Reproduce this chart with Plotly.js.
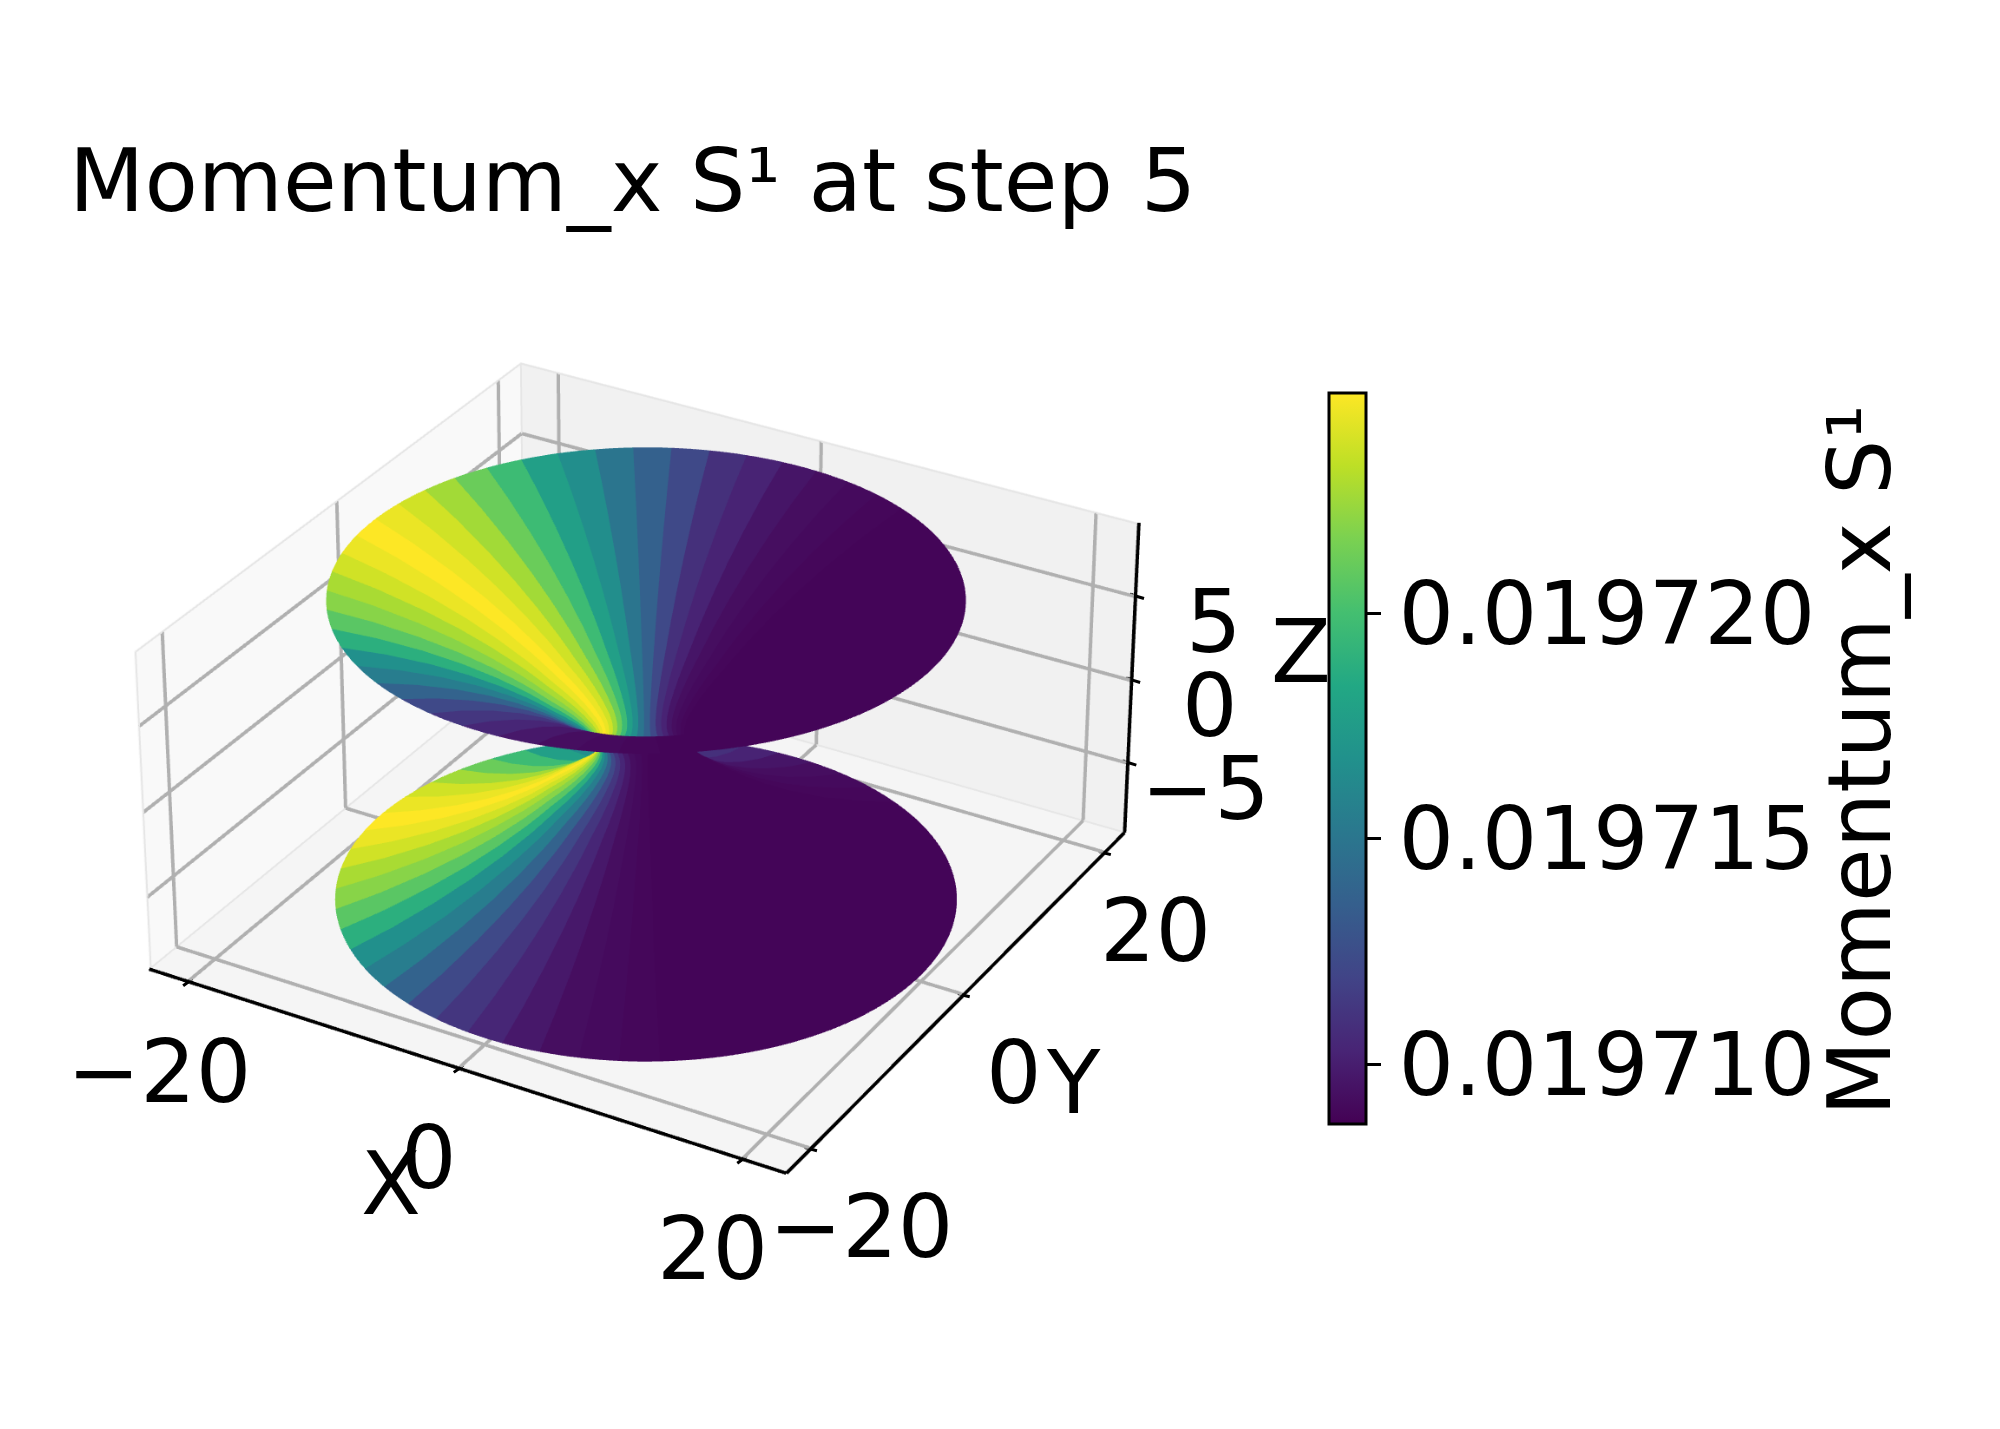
<!DOCTYPE html>
<html><head><meta charset="utf-8">
<script src="https://cdn.plot.ly/plotly-3.0.1.min.js"></script>
<style>html,body{margin:0;padding:0;background:#fff;overflow:hidden;width:2000px;height:1429px}#chart{position:absolute}</style>
</head><body><div id="chart"></div>
<script>
// upper-half profile of the surface (lower half mirrors it)
var profileZ = [0,0.25,0.5,0.75,1,1.5,2,2.5,3,3.5,4,5,6,7,8,8.85];
var profileR = [2.95,2.98,3.08,3.24,3.46,4.0,4.65,5.4,6.23,7.01,7.84,9.70,11.82,14.27,17.12,20.0];
// momentum read per angular band, starting at theta = 0, 50 bands round the circle
var bandFraction = [0.015,0.015,0.015,0.015,0.015,0.015,0.015,0.015,0.015,0.02,0.03,0.04,0.06,0.10,0.14,0.22,0.31,0.39,0.49,0.56,0.68,0.77,0.86,0.93,0.97,1.0,0.97,0.93,0.87,0.82,0.74,0.63,0.5,0.42,0.32,0.22,0.16,0.11,0.07,0.04,0.03,0.02,0.015,0.015,0.015,0.015,0.015,0.015,0.015,0.015];
var vMin = 0.01970867, vMax = 0.01972490;
var cbTicks = [0.01971,0.019715,0.01972];
var axisTicks = [-20,0,20], zTicks = [-5,0,5];
var xLim = 23, zLim = 9.3;
var viridis = [[0,'#440154'],[0.1,'#482475'],[0.2,'#414487'],[0.3,'#355f8d'],[0.4,'#2a788e'],[0.5,'#21918c'],[0.6,'#22a884'],[0.7,'#44bf70'],[0.8,'#7ad151'],[0.9,'#bddf26'],[1,'#fde725']];

// the plot area is larger than the window so that the scene's field of view gives a mild perspective
var W = 5000, H = 5000, centerX = 646, centerY = 745, eyeDist = 8.33;
var offX = W/2 - centerX, offY = H/2 - centerY;
var el = document.getElementById('chart');
el.style.left = (-offX)+'px'; el.style.top = (-offY)+'px'; el.style.width = W+'px'; el.style.height = H+'px';
function px(x){return (x+offX)/W;}
function py(y){return 1-(y+offY)/H;}

var zs = [], rs = [];
for (var i = profileZ.length-1; i > 0; i--) { zs.push(-profileZ[i]); rs.push(profileR[i]); }
for (i = 0; i < profileZ.length; i++) { zs.push(profileZ[i]); rs.push(profileR[i]); }
var X=[],Y=[],Z=[],C=[], nb = bandFraction.length, bandSteps=[0,0.25,0.5,0.75,1];
zs.forEach(function(z,k){
  var rx=[],ry=[],rz=[],rc=[];
  for (var b=0;b<nb;b++){
    var v = vMin + bandFraction[b]*(vMax-vMin);
    bandSteps.forEach(function(s){
      var t = 2*Math.PI*(b+s)/nb;
      rx.push(rs[k]*Math.cos(t)); ry.push(rs[k]*Math.sin(t)); rz.push(z); rc.push(v);
    });
  }
  X.push(rx);Y.push(ry);Z.push(rz);C.push(rc);
});
function segs(list){var o={x:[],y:[],z:[]};list.forEach(function(s){o.x.push(s[0][0],s[1][0],null);o.y.push(s[0][1],s[1][1],null);o.z.push(s[0][2],s[1][2],null);});return o;}
var L=xLim,Zl=zLim,grid=[],axes=[],edges=[];
// grid lines sit a hair in front of the panes to avoid depth fighting
var Li=L-0.08, Zi=Zl-0.05;
axisTicks.forEach(function(v){
  grid.push([[v,-Li,-Zi],[v,Li,-Zi]],[[-Li,v,-Zi],[Li,v,-Zi]],[[v,Li,-Zi],[v,Li,Zi]],[[-Li,v,-Zi],[-Li,v,Zi]]);
  axes.push([[v,-L,-Zl],[v,-L+0.4,-Zl]],[[L,v,-Zl],[L-0.4,v,-Zl]]);
});
zTicks.forEach(function(v){
  grid.push([[-Li,Li,v],[Li,Li,v]],[[-Li,-Li,v],[-Li,Li,v]]);
  axes.push([[L,L,v],[L-0.4,L,v]]);
});
axes.push([[-L,-L,-Zl],[L,-L,-Zl]],[[L,-L,-Zl],[L,L,-Zl]],[[L,L,-Zl],[L,L,Zl]]);
edges.push([[-Li,Li,Zi],[Li,Li,Zi]],[[-Li,-Li,Zi],[-Li,Li,Zi]],[[-Li,Li,-Zi],[-Li,Li,Zi]],[[-Li,-Li,-Zi],[-Li,-Li,Zi]],[[-Li,-Li,-Zi],[-Li,Li,-Zi]],[[-Li,Li,-Zi],[Li,Li,-Zi]]);
function lineTrace(list,color,width){var s=segs(list);return {type:'scatter3d',mode:'lines',x:s.x,y:s.y,z:s.z,line:{color:color,width:width},hoverinfo:'skip',showlegend:false};}

var fs = 87.4;
var tf = {family:'DejaVu Sans',size:fs,color:'#000'};
var ann = [];
function lab(v){return String(v).replace('-','\u2212');}
function tick(x,y,z,ax,ay){return {x:x,y:y,z:z,text:'',showarrow:true,arrowhead:0,arrowwidth:3,arrowcolor:'#000',standoff:0,ax:ax,ay:ay};}
axisTicks.forEach(function(v){
  ann.push({x:v,y:-L,z:-Zl,text:lab(v),showarrow:false,font:tf,xshift:-30,yshift:-90});
  ann.push({x:L,y:v,z:-Zl,text:lab(v),showarrow:false,font:tf,xshift:51,yshift:-78});
  ann.push(tick(v,-L,-Zl,-7,5));
  ann.push(tick(L,v,-Zl,8,2));
});
zTicks.forEach(function(v){
  ann.push({x:L,y:L,z:v,text:lab(v),showarrow:false,font:tf,xshift:78,yshift:-26});
  ann.push(tick(L,L,v,10,3));
});
ann.push({x:0,y:-L,z:-Zl,text:'X',showarrow:false,font:tf,xshift:-68,yshift:-116});
ann.push({x:L,y:0,z:-Zl,text:'Y',showarrow:false,font:tf,xshift:110,yshift:-88});
ann.push({x:L,y:L,z:0,text:'Z',showarrow:false,font:tf,xshift:169,yshift:28});

var axisStyle = {showticklabels:false,ticks:'',showgrid:false,showline:false,zeroline:false,showspikes:false,showbackground:true,title:{text:''}};
var layout = {
  width:W,height:H,margin:{l:0,r:0,t:0,b:0},paper_bgcolor:'#fff',showlegend:false,
  font:{family:'DejaVu Sans',color:'#000'},
  title:{text:'Momentum_x S\u00b9 at step 5',x:px(69),xanchor:'left',y:py(180),yanchor:'middle',font:tf},
  scene:{
    domain:{x:[0,1],y:[0,1]},
    camera:{eye:{x:0.433*eyeDist,y:-0.75*eyeDist,z:0.5*eyeDist},center:{x:0,y:0,z:0},up:{x:0,y:0,z:1},projection:{type:'perspective'}},
    aspectmode:'manual',aspectratio:{x:1,y:1,z:0.5},
    xaxis:Object.assign({},axisStyle,{range:[-L,L],backgroundcolor:'#f9f9f9'}),
    yaxis:Object.assign({},axisStyle,{range:[-L,L],backgroundcolor:'#f1f1f1'}),
    zaxis:Object.assign({},axisStyle,{range:[-Zl,Zl],backgroundcolor:'#f5f5f5'}),
    annotations:ann
  },
  annotations:[
    {xref:'paper',yref:'paper',x:px(1860),y:py(760),xanchor:'center',yanchor:'middle',text:'Momentum_x S\u00b9',textangle:-90,showarrow:false,font:tf}
  ]
};
var trace = {type:'surface',x:X,y:Y,z:Z,surfacecolor:C,cmin:vMin,cmax:vMax,colorscale:viridis,
  lighting:{ambient:1,diffuse:0,specular:0,fresnel:0,roughness:1},hoverinfo:'skip',
  contours:{x:{show:false},y:{show:false},z:{show:false}},
  colorbar:{x:px(1329),xanchor:'left',xpad:0,ypad:0,y:py(393),yanchor:'top',lenmode:'pixels',len:731,thicknessmode:'pixels',thickness:37,outlinecolor:'#000',outlinewidth:3,tickvals:cbTicks,tickformat:'.6f',ticks:'outside',ticklen:14,tickwidth:3,tickcolor:'#000',tickfont:tf}};
Plotly.newPlot('chart',[lineTrace(edges,'#e6e6e6',2),lineTrace(grid,'#b0b0b0',4),lineTrace(axes,'#000',4),trace],layout,{displayModeBar:false});
</script></body></html>
